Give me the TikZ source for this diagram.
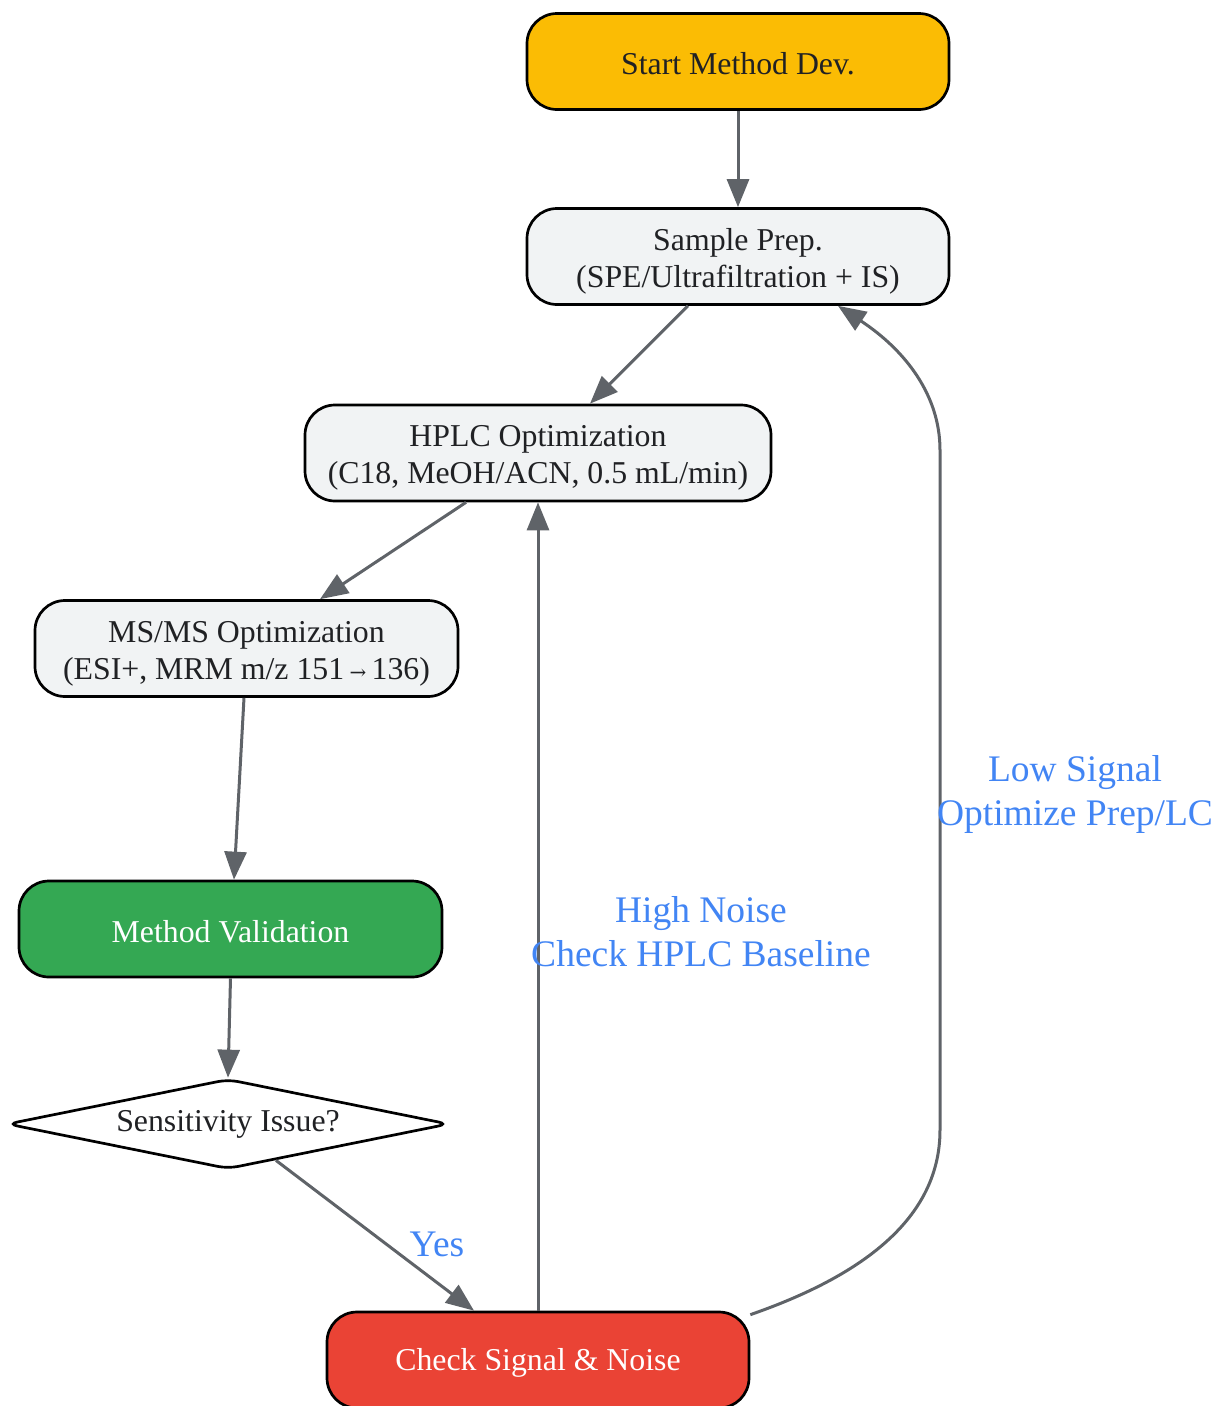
\documentclass[tikz,border=0pt]{standalone}
\usepackage{fontspec}
\setmainfont{Liberation Serif}
\usetikzlibrary{arrows.meta,shapes.geometric}
\definecolor{cyellow}{HTML}{FBBC04}
\definecolor{cgray}{HTML}{F1F3F4}
\definecolor{cgreen}{HTML}{34A853}
\definecolor{cred}{HTML}{EA4335}
\definecolor{cedge}{HTML}{5F6368}
\definecolor{cblue}{HTML}{4285F4}
\definecolor{ctext}{HTML}{202124}
\tikzset{
  box/.style={draw=black, line width=2.7pt, rounded corners=30pt, minimum width=422pt, minimum height=96pt,
    align=center, font=\fontsize{31.8}{37}\selectfont, text=ctext, inner sep=0pt},
  oneline/.style={text height=27pt},
  twoline/.style={text height=68pt},
  decis/.style={draw=black, line width=2.7pt, diamond, shape aspect=4.9, rounded corners=10pt, minimum width=442pt, minimum height=90pt,
    align=center, font=\fontsize{31.8}{37}\selectfont, text=ctext, inner sep=0pt, fill=white},
  conn/.style={draw=cedge, line width=3pt, -{Triangle[length=28pt,width=22pt]}},
  elabel/.style={text=cblue, align=center, font=\fontsize{37.5}{44}\selectfont, inner sep=0pt}
}
\begin{document}
\begin{tikzpicture}[x=1pt,y=-1pt]
\useasboundingbox (0,0) rectangle (1214,1406);
\node[box, oneline, fill=cyellow] (start) at (738,61.5) {Start Method Dev.};
\node[box, twoline, fill=cgray] (sample) at (738,256.5) {Sample Prep.\\(SPE/Ultrafiltration + IS)};
\node[box, twoline, fill=cgray, minimum width=466pt] (hplc) at (538,453) {HPLC Optimization\\(C18, MeOH/ACN, 0.5 mL/min)};
\node[box, twoline, fill=cgray, minimum width=423pt] (ms) at (246.5,648.5) {MS/MS Optimization\\(ESI+, MRM m/z 151\,{\fontspec{DejaVu Serif}\fontsize{20}{20}\selectfont →}\,136)};
\node[box, oneline, fill=cgreen, text=white, minimum width=423pt] (mv) at (230.5,929) {Method Validation};
\node[decis] (d) at (228,1124) {Sensitivity Issue?};
\node[box, oneline, fill=cred, text=white] (check) at (538,1360) {Check Signal \& Noise};

\draw[conn] (start.south) -- (sample.north);
\draw[conn] ([xshift=-50pt]sample.south) -- ([xshift=52pt]hplc.north);
\draw[conn] ([xshift=-72pt]hplc.south) -- ([xshift=73.5pt]ms.north);
\draw[conn] ([xshift=-2.5pt]ms.south) -- ([xshift=3.5pt]mv.north);
\draw[conn] (mv.south) -- (d.north);
\draw[conn] (d) -- ([xshift=-64pt]check.north);
\draw[conn] (check.north) -- (hplc.south);
\draw[conn] ([yshift=-4pt]check.north east) .. controls (850,1280) and (940,1225) .. (940,1130)
  -- (940,450) .. controls (940,395) and (905,350) .. ([xshift=100pt]sample.south);

\node[elabel] (lyes) at (437,1244) {Yes};
\node[elabel] (lnoise) at (701,932) {High Noise\\Check HPLC Baseline};
\node[elabel] (lsignal) at (1075,794) {Low Signal\\Optimize Prep/LC};
\end{tikzpicture}
\end{document}
